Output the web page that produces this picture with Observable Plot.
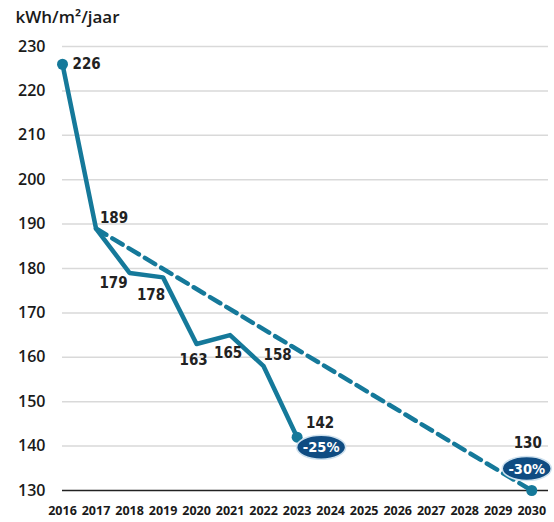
<!DOCTYPE html>
<html>
<head>
<meta charset="utf-8">
<script src="https://cdn.jsdelivr.net/npm/d3@7"></script>
<script src="https://cdn.jsdelivr.net/npm/@observablehq/plot@0.6"></script>
<style>
  html, body { margin: 0; padding: 0; background: #fff; }
  svg { display: block; }
</style>
</head>
<body>
<div id="chart"></div>
<script>
// --- data ---
const unit = "kWh/m²/jaar";
const years = [2016, 2017, 2018, 2019, 2020, 2021, 2022, 2023];
const values = [226, 189, 179, 178, 163, 165, 158, 142];
const targetYears = [2017, 2030];
const targetValues = [189, 130];
const badgeYears = [2023, 2030];
const badgeValues = [142, 130];
const badgeLabels = ["-25%", "-30%"];
const tickYears = [2016,2017,2018,2019,2020,2021,2022,2023,2024,2025,2026,2027,2028,2029,2030];
const yTicks = [130,140,150,160,170,180,190,200,210,220,230];

// --- derived tables ---
const actual = years.map((y, i) => ({year: y, value: values[i]}));
const target = targetYears.map((y, i) => ({year: y, value: targetValues[i]}));
const badges = badgeYears.map((y, i) => ({year: y, value: badgeValues[i], label: badgeLabels[i]}));
const labelPoints = [...actual, target[1]];

// --- layout config (label offsets per year) ---
const labelOffsets = {
  2016: {dx: 10, dy: 0, anchor: "start"},
  2017: {dx: 18, dy: -10, anchor: "middle"},
  2018: {dx: -16, dy: 10, anchor: "middle"},
  2019: {dx: -12, dy: 18, anchor: "middle"},
  2020: {dx: -3, dy: 16, anchor: "middle"},
  2021: {dx: -2, dy: 18, anchor: "middle"},
  2022: {dx: 14, dy: -11, anchor: "middle"},
  2023: {dx: 23, dy: -14, anchor: "middle"},
  2030: {dx: -4, dy: -47, anchor: "middle"}
};
const badgeOffsets = {2023: {dx: 24, dy: 10}, 2030: {dx: -5, dy: -22}};

const teal = "#15799a";
const navy = "#0f4c82";
const valueFont = "'DejaVu Sans Condensed', 'Liberation Sans Narrow', 'Open Sans', sans-serif";

const ellipse = {
  draw(ctx) {
    const rx = 24.5, ry = 12, k = 0.5523;
    ctx.moveTo(-rx, 0);
    ctx.bezierCurveTo(-rx, -ry * k, -rx * k, -ry, 0, -ry);
    ctx.bezierCurveTo(rx * k, -ry, rx, -ry * k, rx, 0);
    ctx.bezierCurveTo(rx, ry * k, rx * k, ry, 0, ry);
    ctx.bezierCurveTo(-rx * k, ry, -rx, ry * k, -rx, 0);
    ctx.closePath();
  }
};

const labelMarks = labelPoints.map(d => {
  const o = labelOffsets[d.year];
  return Plot.text([d], {
    x: "year", y: "value", text: d => String(d.value),
    dx: o.dx, dy: o.dy, textAnchor: o.anchor,
    fontSize: 15, fontWeight: "bold", fill: "#222", fontFamily: valueFont
  });
});

const badgeMarks = badges.flatMap(d => {
  const o = badgeOffsets[d.year];
  return [
    Plot.dot([d], {x: "year", y: "value", dx: o.dx, dy: o.dy, symbol: ellipse, r: 10,
      fill: navy, stroke: "#cfe2ef", strokeWidth: 1.5}),
    Plot.text([d], {x: "year", y: "value", text: "label", dx: o.dx, dy: o.dy + 0.5,
      fill: "white", fontSize: 14.5, fontWeight: "bold", fontFamily: valueFont})
  ];
});

const chart = Plot.plot({
  width: 554,
  height: 522,
  marginLeft: 62,
  marginRight: 6,
  marginTop: 46,
  marginBottom: 32,
  style: {fontFamily: "'Open Sans', sans-serif", color: "#1a1a1a", background: "white"},
  x: {type: "linear", domain: [2016, 2030.5]},
  y: {domain: [130, 230]},
  marks: [
    Plot.ruleY(yTicks.filter(t => t > 130), {stroke: "#d9d9d9", strokeWidth: 1.5}),
    Plot.ruleY([130], {stroke: "#222", strokeWidth: 1.5}),
    Plot.axisY({ticks: yTicks, tickSize: 0, tickPadding: 17, label: null,
      fontSize: 16, fontWeight: 600, tickFormat: d => String(d)}),
    Plot.axisX({ticks: tickYears, tickSize: 0, tickPadding: 16, label: null,
      fontSize: 12.5, fontWeight: 700, tickFormat: d => String(d)}),
    Plot.text([unit], {frameAnchor: "top-left", dx: -47, dy: -29, textAnchor: "start",
      lineAnchor: "middle", fontSize: 17, fontWeight: 600, fill: "#1a1a1a"}),
    Plot.line(target, {x: "year", y: "value", stroke: teal, strokeWidth: 4.5,
      strokeDasharray: "12,7"}),
    Plot.line(actual, {x: "year", y: "value", stroke: teal, strokeWidth: 4.5,
      strokeLinejoin: "round"}),
    Plot.dot([actual[0], actual[actual.length - 1], target[1]], {x: "year", y: "value",
      r: 5.5, fill: teal}),
    ...labelMarks,
    ...badgeMarks
  ]
});
document.getElementById("chart").appendChild(chart);
</script>
</body>
</html>
